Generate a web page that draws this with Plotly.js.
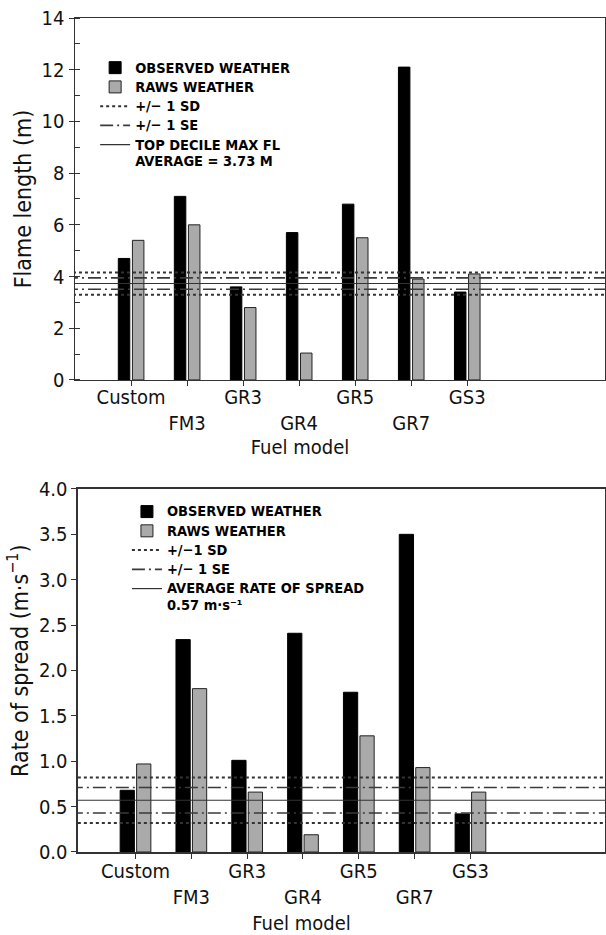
<!DOCTYPE html>
<html>
<head>
<meta charset="utf-8">
<script src="https://cdn.plot.ly/plotly-3.0.1.min.js"></script>
<style>html,body{margin:0;padding:0;background:#fff}#chart{width:606px;height:935px}</style>
</head>
<body>
<div id="chart"></div>
<script>
// ---- data ----
const categories = ['Custom', 'FM3', 'GR3', 'GR4', 'GR5', 'GR7', 'GS3'];

const flameObserved = [4.7, 7.1, 3.6, 5.7, 6.8, 12.1, 3.4];
const flameRaws     = [5.4, 6.0, 2.8, 1.04, 5.5, 3.9, 4.1];
const flameMean = 3.73;
const flameSD = [3.30, 4.16];
const flameSE = [3.51, 3.95];

const rosObserved = [0.68, 2.34, 1.01, 2.41, 1.76, 3.50, 0.42];
const rosRaws     = [0.97, 1.80, 0.66, 0.19, 1.28, 0.93, 0.66];
const rosMean = 0.57;
const rosSD = [0.32, 0.82];
const rosSE = [0.43, 0.71];

// ---- build ----
const FONT = 'DejaVu Sans Condensed, DejaVu Sans, sans-serif';
const idx = categories.map((c, i) => i);
const tickText = categories.map((c, i) => (i % 2 ? '<br>' + c : c));
const ZW = '\u200b';
const NB = n => '\u00a0'.repeat(n);
const big = s => '<span style="font-size:14.5px">' + s + '</span>';

function bars(y, xa, ya, name, color, lineColor, width, offset, legend) {
  return {
    type: 'bar', x: idx, y: y, xaxis: xa, yaxis: ya, name: big(name),
    width: width, offset: offset, legend: legend,
    marker: {color: color, line: {color: lineColor, width: 1}}
  };
}
function hline(vals, xa, ya, name, dash, width, color, legend) {
  const xs = [], ys = [];
  vals.forEach((v, k) => {
    if (k) { xs.push(null); ys.push(null); }
    xs.push(-2, 10); ys.push(v, v);
  });
  return {
    type: 'scatter', mode: 'lines', x: xs, y: ys, xaxis: xa, yaxis: ya,
    name: name.split('<br>').map(big).join('<br>'), legend: legend, hoverinfo: 'skip',
    line: {color: color, width: width, dash: dash}
  };
}
const DASHDOT = '13px,4px,2px,4px';

const data = [
  bars(flameObserved, 'x', 'y', 'OBSERVED WEATHER', '#000', '#000', 0.205, -0.227, 'legend'),
  bars(flameRaws, 'x', 'y', 'RAWS WEATHER', '#aaaaaa', '#222', 0.205, 0.025, 'legend'),
  hline(flameSD, 'x', 'y', '+/\u2212 1 SD', 'dot', 2, '#333', 'legend'),
  hline(flameSE, 'x', 'y', '+/\u2212 1 SE', DASHDOT, 1.6, '#3a3a3a', 'legend'),
  hline([flameMean], 'x', 'y', 'TOP DECILE MAX FL<br>AVERAGE = 3.73 M', 'solid', 1.2, '#333', 'legend'),

  bars(rosObserved, 'x2', 'y2', 'OBSERVED WEATHER', '#000', '#000', 0.255, -0.275, 'legend2'),
  bars(rosRaws, 'x2', 'y2', 'RAWS WEATHER', '#aaaaaa', '#222', 0.255, 0.02, 'legend2'),
  hline(rosSD, 'x2', 'y2', '+/\u22121 SD', 'dot', 2, '#333', 'legend2'),
  hline(rosSE, 'x2', 'y2', '+/\u2212 1 SE', DASHDOT, 1.6, '#3a3a3a', 'legend2'),
  hline([rosMean], 'x2', 'y2', 'AVERAGE RATE OF SPREAD<br>0.57 m\u00b7s\u207b\u00b9', 'solid', 1.2, '#333', 'legend2')
];

const axisCommon = {
  showline: true, linecolor: '#333', linewidth: 1.5, mirror: true,
  showgrid: false, zeroline: false, ticks: 'outside', ticklen: 5,
  tickcolor: '#333', tickfont: {family: FONT, size: 20, color: '#111'}
};
const legendCommon = {
  xanchor: 'left', yanchor: 'top', bgcolor: 'rgba(0,0,0,0)',
  font: {family: FONT, size: 12.5, color: '#000', weight: 'bold'},
  tracegroupgap: 0, valign: 'top', itemwidth: 30
};

const layout = {
  width: 606, height: 935,
  margin: {l: 75, r: 1, t: 18, b: 83},
  paper_bgcolor: '#fff', plot_bgcolor: '#fff',
  barmode: 'overlay', showlegend: true,
  xaxis: Object.assign({}, axisCommon, {
    domain: [0, 1], anchor: 'y', range: [-1, 8.46],
    tickvals: idx, ticktext: tickText, ticklabelstandoff: -6,
    title: {text: 'Fuel model' + NB(14) + ZW, font: {family: FONT, size: 20, color: '#111'}, standoff: 4}
  }),
  yaxis: Object.assign({}, axisCommon, {
    domain: [0.566, 1], anchor: 'x', range: [0, 14], dtick: 2,
    minor: {dtick: 1, ticks: 'inside', ticklen: 5, tickcolor: '#333'},
    title: {text: 'Flame length (m)', font: {family: FONT, size: 23, color: '#111'}, standoff: 3}
  }),
  xaxis2: Object.assign({}, axisCommon, {
    domain: [0.00566, 1], anchor: 'y2', range: [-1.03, 8.41],
    tickvals: idx, ticktext: tickText, ticklabelstandoff: -5,
    title: {text: 'Fuel model' + NB(14) + ZW, font: {family: FONT, size: 20, color: '#111'}, standoff: 15}
  }),
  yaxis2: Object.assign({}, axisCommon, {
    domain: [0, 0.4353], anchor: 'x2', range: [0, 4], dtick: 0.5, tickformat: '.1f',
    title: {text: ZW + NB(3) + 'Rate of spread (m\u00b7s<sup>\u22121</sup>)', font: {family: FONT, size: 23, color: '#111'}, standoff: 4}
  }),
  legend: Object.assign({}, legendCommon, {x: 0.038, y: 0.958}),
  legend2: Object.assign({}, legendCommon, {x: 0.098, y: 0.4257})
};

Plotly.newPlot('chart', data, layout, {staticPlot: true, displayModeBar: false});
</script>
</body>
</html>
